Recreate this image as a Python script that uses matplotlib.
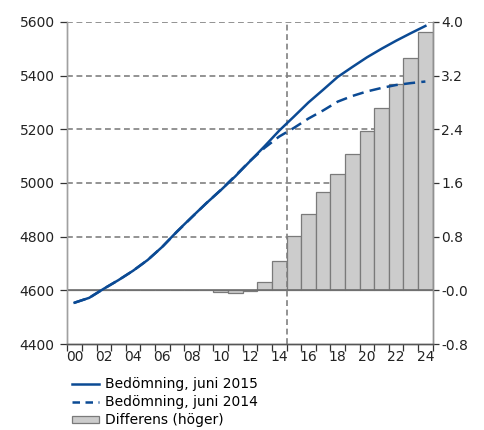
#!/usr/bin/python
# -*- coding: utf-8 -*-

from matplotlib import pyplot
from matplotlib import lines
from matplotlib import patches

years = list(range(2000, 2025))
year_labels = ['%02d' % (y % 100) for y in years[::2]]

# Bedömning, juni 2015 (vänster axel)
bedomning_2015 = [4554, 4572, 4606, 4638, 4673, 4713, 4762, 4819, 4872, 4924,
                  4973, 5025, 5081, 5137, 5195, 5247, 5300, 5347, 5395, 5432,
                  5468, 5500, 5530, 5558, 5585]
# Bedömning, juni 2014 (vänster axel)
bedomning_2014 = [4554, 4572, 4606, 4638, 4673, 4713, 4762, 4818, 4871, 4924,
                  4974, 5027, 5082, 5131, 5173, 5205, 5240, 5270, 5303, 5324,
                  5341, 5354, 5365, 5372, 5378]
# Differens i procent (höger axel)
differens = [0.0, 0.0, 0.0, 0.0, 0.0, 0.0, 0.0, 0.01, 0.01, 0.0,
             -0.02, -0.04, -0.01, 0.12, 0.43, 0.815, 1.14, 1.46, 1.74, 2.03,
             2.37, 2.72, 3.08, 3.46, 3.85]

left_ticks = [4400, 4600, 4800, 5000, 5200, 5400, 5600]
right_ticks = [-0.8, 0.0, 0.8, 1.6, 2.4, 3.2, 4.0]
right_labels = ['-0.8', '-0.0', '0.8', '1.6', '2.4', '3.2', '4.0']
prognos_start = 14.5

BLUE = '#0b4a94'
GRID = '#808080'
DASH = (0, (3.5, 2.2))


def main():
  pyplot.rcParams['font.family'] = ['DejaVu Sans']
  pyplot.rcParams['font.size'] = 10

  fig = pyplot.figure(figsize=(4.84, 4.30), dpi=100)
  ax2 = fig.add_axes([0.139, 0.2, 0.755, 0.749])
  ax = ax2.twinx()
  ax.yaxis.tick_left()
  ax2.yaxis.tick_right()
  ax.set_zorder(ax2.get_zorder() + 1)
  ax.patch.set_visible(False)

  x = list(range(len(years)))

  # Stödlinjer under staplarna, ej vid nedre kanten
  for t in right_ticks[2:]:
    ax2.axhline(t, color=GRID, linestyle=DASH, linewidth=1.2, zorder=1)

  # Staplar på höger axel
  ax2.bar(x, differens, width=1.0, color='#cccccc', edgecolor='#7a7a7a',
          linewidth=0.9, zorder=2)
  ax2.axhline(0, color='#6e6e6e', linewidth=1.2, zorder=3)
  ax2.set_ylim(-0.8, 4.0)
  ax2.set_yticks(right_ticks)
  ax2.set_yticklabels(right_labels)

  # Linjer på vänster axel
  ax.axvline(prognos_start, color=GRID, linestyle=DASH,
             linewidth=1.2, zorder=1)
  ax.plot(x, bedomning_2014, color=BLUE, linewidth=1.8,
          linestyle=(0, (4.5, 2.5)), zorder=3)
  ax.plot(x, bedomning_2015, color=BLUE, linewidth=1.8, zorder=4)
  ax.set_ylim(4400, 5600)
  ax.set_yticks(left_ticks)
  ax.set_yticklabels([str(v) for v in left_ticks])
  ax.set_xlim(-0.5, len(years) - 0.5)

  ax2.set_xticks(x[::2])
  ax2.set_xticklabels(year_labels)
  ax2.set_xticks([i - 0.5 for i in range(len(years) + 1)], minor=True)
  ax2.tick_params(axis='x', which='major', length=0, pad=4, colors='#222222')
  ax2.tick_params(axis='x', which='minor', length=5, width=0.9,
                  color='#333333')
  ax2.tick_params(axis='y', length=4, width=0.9, pad=2, color='#333333',
                  labelcolor='#222222')
  ax.tick_params(axis='y', length=5, width=0.9, pad=4, color='#333333',
                 labelcolor='#222222')

  for a in (ax, ax2):
    a.spines['top'].set_visible(False)
    a.spines['left'].set_color('#a0a0a0')
    a.spines['right'].set_color('#909090')
    a.spines['bottom'].set_color('#555555')
    for s in a.spines.values():
      s.set_linewidth(1.0)

  handles = [
      lines.Line2D([], [], color=BLUE, linewidth=1.8),
      lines.Line2D([], [], color=BLUE, linewidth=1.8,
                   linestyle=(0, (3.0, 2.2))),
      patches.Patch(facecolor='#cccccc', edgecolor='#7a7a7a', linewidth=0.9),
  ]
  labels = ['Bedömning, juni 2015', 'Bedömning, juni 2014',
            'Differens (höger)']
  fig.legend(handles, labels, loc='upper left',
             bbox_to_anchor=(0.148, 0.123), frameon=False, borderpad=0,
             labelspacing=0.3, handlelength=2.0, handleheight=0.5,
             handletextpad=0.4, borderaxespad=0)

  pyplot.savefig('out.png', dpi=100)

if __name__ == '__main__':
  main()
